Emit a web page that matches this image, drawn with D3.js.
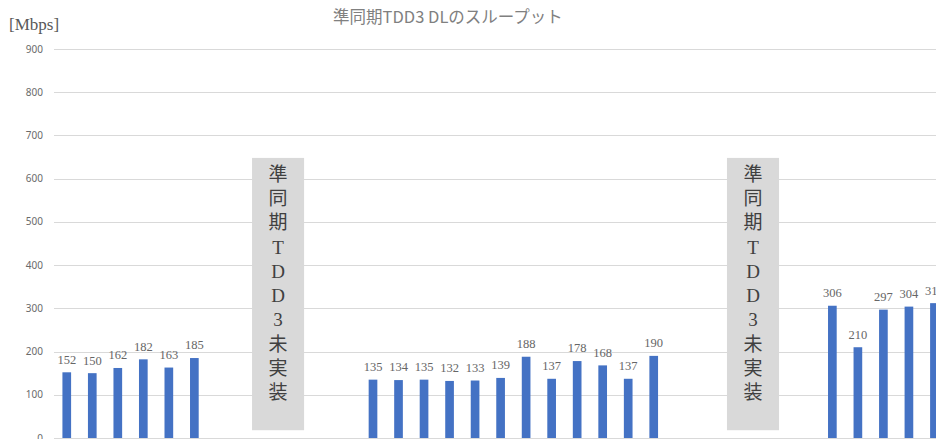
<!DOCTYPE html>
<html>
<head>
<meta charset="utf-8">
<script src="https://cdn.jsdelivr.net/npm/d3@7"></script>
<style>
body { margin: 0; background: #fff; }
svg { display: block; }
.tick-label { font-family: "Noto Sans", "DejaVu Sans", sans-serif; font-size: 10px; fill: #6a6a6a; }
.bar-label { font-family: "Liberation Serif", "Noto Sans CJK JP", serif; font-size: 12.5px; fill: #666; }
.note-text { font-family: "Liberation Serif", "Noto Sans CJK JP", serif; font-size: 19px; fill: #404040; }
</style>
</head>
<body>
<div id="chart"></div>
<script>
let width = 936
let height = 439

// throughput per slot, null = no measurement
let values = [
	152, 150, 162, 182, 163, 185,
	null, null, null, null, null, null,
	135, 134, 135, 132, 133, 139, 188, 137, 178, 168, 137, 190,
	null, null, null, null, null, null,
	306, 210, 297, 304, 312
]
let categories = values.map((d, i) => i)
let yTicks = [0, 100, 200, 300, 400, 500, 600, 700, 800, 900]

// grey "not implemented" boxes, in slot units / Mbps
let noteFrom = [7.76, 26.37]
let noteTo = [9.8, 28.41]
let noteLow = 18
let noteHigh = 648
let noteChars = ['準', '同', '期', 'T', 'D', 'D', '3', '未', '実', '装']

let left = 54
let step = 25.52

let x = d3.scaleBand()
	.domain(categories)
	.range([left, left + categories.length * step])
	.paddingInner(0.66)
	.paddingOuter(0.33)

let xLin = d3.scaleLinear()
	.domain([0, categories.length])
	.range([left, left + categories.length * step])

let y = d3.scaleLinear()
	.domain([0, 900])
	.range([438, 49])

let svg = d3.select('#chart')
	.append('svg')
	.attr('width', width)
	.attr('height', height)

// grid
svg.append('g')
	.selectAll('line')
	.data(yTicks)
	.enter()
	.append('line')
	.attr('x1', left)
	.attr('x2', width)
	.attr('y1', d => Math.round(y(d)) + 0.5)
	.attr('y2', d => Math.round(y(d)) + 0.5)
	.attr('stroke', '#d9d9d9')
	.attr('stroke-width', 1)

svg.append('g')
	.selectAll('text')
	.data(yTicks)
	.enter()
	.append('text')
	.attr('class', 'tick-label')
	.attr('x', 43)
	.attr('y', d => y(d))
	.attr('dy', '0.35em')
	.attr('text-anchor', 'end')
	.text(d => d)

// bars
let barData = categories.filter(i => values[i] !== null)

svg.append('g')
	.selectAll('rect')
	.data(barData)
	.enter()
	.append('rect')
	.attr('x', i => x(i))
	.attr('y', i => y(values[i]))
	.attr('width', x.bandwidth())
	.attr('height', i => y(0) - y(values[i]))
	.attr('fill', '#4472c4')

svg.append('g')
	.selectAll('text')
	.data(barData)
	.enter()
	.append('text')
	.attr('class', 'bar-label')
	.attr('x', i => x(i) + x.bandwidth() / 2)
	.attr('y', i => y(values[i]) - 13)
	.attr('dy', '0.35em')
	.attr('text-anchor', 'middle')
	.text(i => values[i])

// notes
noteFrom.forEach((f, k) => {
	let g = svg.append('g')
	g.append('rect')
		.attr('x', xLin(f))
		.attr('y', y(noteHigh))
		.attr('width', xLin(noteTo[k]) - xLin(f))
		.attr('height', y(noteLow) - y(noteHigh))
		.attr('fill', '#d9d9d9')
	let cx = (xLin(f) + xLin(noteTo[k])) / 2
	g.selectAll('text')
		.data(noteChars)
		.enter()
		.append('text')
		.attr('class', 'note-text')
		.attr('x', cx)
		.attr('y', (d, i) => 174 + i * 24.3)
		.attr('dy', '0.35em')
		.attr('text-anchor', 'middle')
		.text(d => d)
})

// titles
svg.append('text')
	.attr('x', 448)
	.attr('y', 17)
	.attr('dy', '0.35em')
	.attr('text-anchor', 'middle')
	.attr('font-family', '"Noto Sans CJK JP", "Noto Sans", sans-serif')
	.attr('font-size', 16.5)
	.attr('fill', '#808080')
	.text('準同期TDD3 DLのスループット')

svg.append('text')
	.attr('x', 9)
	.attr('y', 24)
	.attr('dy', '0.35em')
	.attr('font-family', '"Liberation Serif", serif')
	.attr('font-size', 17)
	.attr('fill', '#595959')
	.text('[Mbps]')
</script>
</body>
</html>
